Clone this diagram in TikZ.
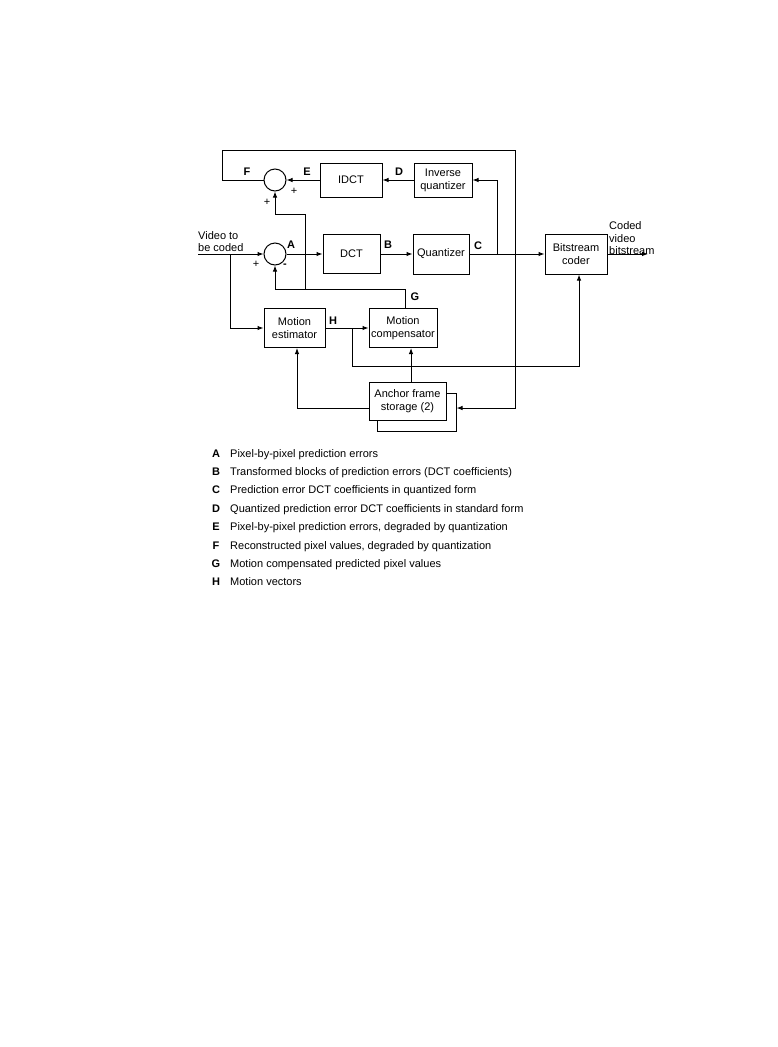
\documentclass[tikz,border=0pt]{standalone}
\usepackage{fontspec}
\setmainfont{Liberation Sans}
\usetikzlibrary{arrows.meta}
\begin{document}
\begin{tikzpicture}[x=1pt,y=-1pt,
  blk/.style={draw, line width=1pt, align=center, inner sep=0pt, font=\fontsize{11}{13}\selectfont},
  sumc/.style={draw, circle, line width=1pt, minimum size=22pt, inner sep=0pt},
  con/.style={line width=1pt},
  arr/.style={con, -{Latex[length=6pt,width=4.5pt]}},
  lab/.style={font=\bfseries\fontsize{11}{12}\selectfont, inner sep=0pt},
  sgn/.style={font=\fontsize{11}{12}\selectfont, inner sep=0pt},
  txt/.style={font=\fontsize{11}{12.5}\selectfont, inner sep=0pt, align=left},
]
\useasboundingbox[fill=white] (0,0) rectangle (777,1047);

% blocks
\node[sumc] (s1) at (275,180) {};
\node[sumc] (s2) at (275,254) {};
\node[blk, minimum width=62pt, minimum height=34pt] (idct) at (351,180) {IDCT};
\node[blk, minimum width=58pt, minimum height=34pt] (iq) at (443,180) {Inverse\\quantizer};
\node[blk, minimum width=57pt, minimum height=39pt] (dct) at (351.5,254) {DCT};
\node[blk, minimum width=56pt, minimum height=40pt] (qz) at (441,254) {Quantizer};
\node[blk, minimum width=62pt, minimum height=40pt] (bit) at (576,254) {Bitstream\\coder};
\node[blk, minimum width=61pt, minimum height=39pt] (me) at (294.5,328) {Motion\\estimator};
\node[blk, minimum width=68pt, minimum height=39pt] (mc) at (403,328) {Motion\\compensator};
\node[draw, line width=1pt, minimum width=79pt, minimum height=38pt, inner sep=0pt] (afsb) at (416.5,412) {};
\node[blk, fill=white, minimum width=77pt, minimum height=38pt] (afs) at (407.5,401) {Anchor frame\\storage (2)};

% coordinates
\coordinate (vin) at (198,254);
\coordinate (jin) at (230,254);
\coordinate (jc) at (497,254);
\coordinate (jh) at (352,328);
\coordinate (jg) at (305,289);
\coordinate (out) at (648,254);

% input / output text
\node[txt, anchor=south west] (vtxt) at (198,252) {Video to\\be coded};
\node[txt, anchor=south west] (otxt) at (609,255) {Coded\\video\\bitstream};

% connectors
\draw[arr] (vin) -- (s2.west);
\draw[arr] (jin) |- (me.west);
\draw[arr] (s2.east) -- (dct.west);
\draw[arr] (dct.east) -- (qz.west);
\draw[arr] (qz.east) -- (bit.west);
\draw[arr] (bit.east) -- (out);
\draw[arr] (jc) |- (iq.east);
\draw[arr] (iq.west) -- (idct.east);
\draw[arr] (idct.west) -- (s1.east);
\draw[arr] (s1.west) -- (222,180) -- (222,150) -- (515,150) -- (515,408) -- (afsb.east |- 0,408);
\draw[arr] (me.east) -- (mc.west);
\draw[arr] (jh) -- (352,366) -- (579,366) -- (bit.south -| 579,0);
\draw[arr] (afs.north -| 411,0) -- (mc.south -| 411,0);
\draw[arr] (afs.west |- 0,408) -- (297,408) -- (me.south -| 297,0);
\draw[arr] (mc.north -| 405,0) -- (405,289) -- (275,289) -- (s2.south);
\draw[arr] (jg) -- (305,214) -- (275,214) -- (s1.south);

% signal labels
\node[lab] (lF) at (247,172) {F};
\node[lab] (lE) at (307,172) {E};
\node[lab] (lD) at (399,172) {D};
\node[lab] (lA) at (291,245) {A};
\node[lab] (lB) at (388,245) {B};
\node[lab] (lC) at (478,246) {C};
\node[lab] (lG) at (415,297) {G};
\node[lab] (lH) at (333,321) {H};

% signs
\node[sgn] (p1) at (294,191) {+};
\node[sgn] (p2) at (267,202) {+};
\node[sgn] (p3) at (256,264) {+};
\node[sgn, font=\bfseries\fontsize{11}{12}\selectfont] (m1) at (285,266) {-};

% legend
\foreach \L/\T [count=\i from 0] in {
  A/{Pixel-by-pixel prediction errors},
  B/{Transformed blocks of prediction errors (DCT coefficients)},
  C/{Prediction error DCT coefficients in quantized form},
  D/{Quantized prediction error DCT coefficients in standard form},
  E/{Pixel-by-pixel prediction errors, degraded by quantization},
  F/{Reconstructed pixel values, degraded by quantization},
  G/{Motion compensated predicted pixel values},
  H/{Motion vectors}} {
  \node[lab, anchor=base] (leg\i) at (216,457+18.4*\i) {\L};
  \node[txt, anchor=base west] (legt\i) at (230,457+18.4*\i) {\T};
}
\end{tikzpicture}
\end{document}
